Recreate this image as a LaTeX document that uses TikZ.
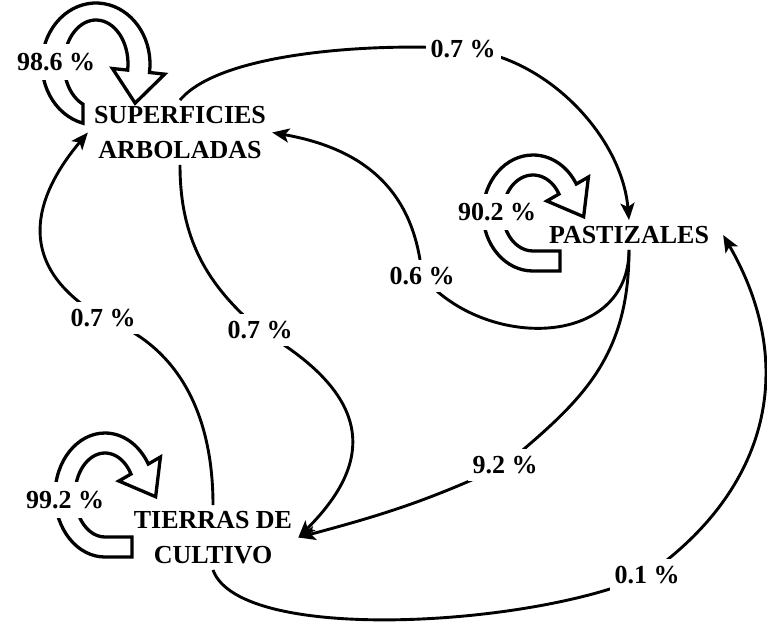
\documentclass[tikz,border=0pt]{standalone}
\usepackage{fontspec}
\setmainfont{Liberation Serif}
\usetikzlibrary{arrows.meta,calc}

% #1 centre, #2 #3 outer radii, #4 #5 inner radii, #6 outer start angle, #7 inner start angle, #8 head angle, #9 tail length
\newcommand{\hollowloop}[9]{%
  \coordinate (#1-o) at ($(#1)+(#8:#2 and #3)$);
  \coordinate (#1-i) at ($(#1)+(#8:#4 and #5)$);
  \coordinate (#1-w1) at ($(#1-i)!1.7!(#1-o)$);
  \coordinate (#1-w2) at ($(#1-o)!1.7!(#1-i)$);
  \coordinate (#1-m) at ($(#1-o)!.5!(#1-i)$);
  \coordinate (#1-t) at ($(#1-m)!32pt!-90:(#1-o)$);
  \draw[loopstyle] ($(#1)+(#6:#2 and #3)+(#9,0)$) -- ($(#1)+(#6:#2 and #3)$)
     arc[start angle=#6, end angle=#8, x radius=#2, y radius=#3]
     -- (#1-w1) -- (#1-t) -- (#1-w2) -- (#1-i)
     arc[start angle=#8, end angle=#7, x radius=#4, y radius=#5]
     -- ++(#9,0) -- cycle;
}

\begin{document}
\begin{tikzpicture}[x=1pt,y=1pt,
  cat/.style={font=\fontsize{26}{35}\selectfont\bfseries, align=center, inner sep=6pt},
  pct/.style={font=\fontsize{26}{30}\selectfont\bfseries, fill=white, inner xsep=5pt, inner ysep=7pt},
  looppct/.style={font=\fontsize{26}{30}\selectfont\bfseries, fill=white, inner xsep=2pt, inner ysep=9pt},
  conn/.style={line width=2.9pt, -{Stealth[length=17pt,width=14pt,inset=4pt]}},
  loopstyle/.style={draw, fill=white, line width=3.3pt, line join=miter}]
\useasboundingbox (0,0) rectangle (767,-625);

% self-loop arrows
\coordinate (lsa) at (96,-64);
\coordinate (lpa) at (533,-213);
\coordinate (ltc) at (105,-495);
\hollowloop{lsa}{54}{61}{32}{44}{256}{246}{-8}{0}
\hollowloop{lpa}{50}{58}{30}{38}{270}{270}{30}{27}
\hollowloop{ltc}{50}{62}{30}{42}{270}{270}{30}{27}

% categories
\node[cat] (sa) at (180,-132.5) {SUPERFICIES\\ARBOLADAS};
\node[cat] (pa) at (629,-235) {PASTIZALES};
\node[cat] (tc) at (213,-537.5) {TIERRAS DE\\CULTIVO};

% label positions on the connectors
\coordinate (w1) at (463,-49);
\coordinate (w2) at (422,-276);
\coordinate (w3) at (260,-330);
\coordinate (w4) at (103,-318);
\coordinate (w5) at (505,-465);
\coordinate (w6) at (647,-575);

% connectors
\draw[conn] (sa.north) to[out=50,in=175,looseness=0.6] (w1)
  to[out=-5,in=95,looseness=0.9] (pa.north);
\draw[conn] (pa.south) to[out=-90,in=-50,looseness=1.2] (w2)
  to[out=95,in=-10,looseness=1.1] (sa.east);
\draw[conn] (sa.south) to[out=-90,in=140] (w3)
  to[out=-30,in=45,out distance=140pt,in distance=100pt] (tc.east);
\draw[conn] (tc.north) to[out=90,in=-20] (w4)
  to[out=150,in=-130,out distance=115pt,in distance=70pt] (sa.west);
\draw[conn] (pa.south) to[out=-90,in=40,out distance=110pt,in distance=97pt] (w5)
  to[out=-155,in=15] (tc.east);
\draw[conn] (tc.south) to[out=-70,in=-155,out distance=80pt,in distance=120pt] (w6)
  to[out=35,in=-60,out distance=150pt,in distance=150pt] ([xshift=8pt]pa.east);

% labels
\node[pct] (l1) at (w1) {0.7 \%};
\node[pct] (l2) at (w2) {0.6 \%};
\node[pct] (l3) at (w3) {0.7 \%};
\node[pct] (l4) at (w4) {0.7 \%};
\node[pct] (l5) at (w5) {9.2 \%};
\node[pct] (l6) at (w6) {0.1 \%};
\node[looppct] (s1) at (56,-62) {98.6 \%};
\node[looppct] (s2) at (497,-212) {90.2 \%};
\node[looppct] (s3) at (65,-500) {99.2 \%};
\end{tikzpicture}
\end{document}
